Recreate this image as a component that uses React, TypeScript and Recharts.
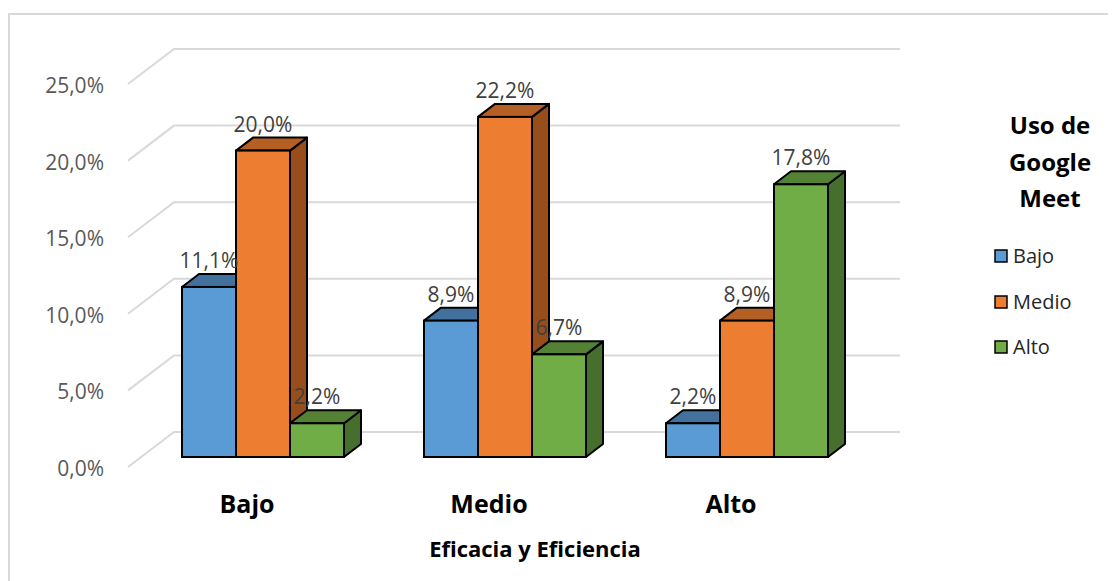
import { BarChart, Bar, XAxis, YAxis, CartesianGrid, Legend, LabelList } from 'recharts';

const categories = ['Bajo', 'Medio', 'Alto'];
const serieBajo = [11.1, 8.9, 2.2];
const serieMedio = [20.0, 22.2, 8.9];
const serieAlto = [2.2, 6.7, 17.8];
const yTicks = [0, 5, 10, 15, 20, 25];

const series = [
  { key: 'bajo', name: 'Bajo', front: '#5B9BD5', top: '#41719C', side: '#2F5A82' },
  { key: 'medio', name: 'Medio', front: '#ED7D31', top: '#B45F24', side: '#974D1C' },
  { key: 'alto', name: 'Alto', front: '#70AD47', top: '#548235', side: '#466E2D' },
];

const data = categories.map((c, i) => ({
  name: c,
  bajo: serieBajo[i],
  medio: serieMedio[i],
  alto: serieAlto[i],
}));

const DX = 17;
const DY = 13;
const FONT = '"Open Sans", sans-serif';

const fmt = (v: number) => v.toFixed(1).replace('.', ',') + '%';

function makeShape(front: string, top: string, side: string) {
  return (props: any) => {
    const { x, y, width, height } = props;
    const x2 = x + width;
    const yb = y + height;
    return (
      <g>
        <path
          d={`M${x2},${y} L${x2 + DX},${y - DY} L${x2 + DX},${yb - DY} L${x2},${yb} Z`}
          fill={side} stroke="#000" strokeWidth={2} strokeLinejoin="round"
        />
        <path
          d={`M${x},${y} L${x + DX},${y - DY} L${x2 + DX},${y - DY} L${x2},${y} Z`}
          fill={top} stroke="#000" strokeWidth={2} strokeLinejoin="round"
        />
        <rect x={x} y={y} width={width} height={height} fill={front} stroke="#000" strokeWidth={2} />
      </g>
    );
  };
}

// back wall lines with the little diagonal going to the front
const gridLine = (p: any) => {
  const y = p.y1;
  return (
    <path
      key={p.key}
      d={`M120,${y + 10} L166,${y - 25} L892,${y - 25}`}
      fill="none" stroke="#d9d9d9" strokeWidth={2}
    />
  );
};

const dataLabel = (p: any) => (
  <text x={p.x + p.width / 2} y={p.y - 19} textAnchor="middle" fontSize={21} fill="#404040" fontFamily={FONT}>
    {fmt(p.value)}
  </text>
);

function LegendBox() {
  const tops = [144, 190, 235];
  return (
    <svg width={150} height={270} style={{ fontFamily: FONT }}>
      <text x={80} y={28} textAnchor="middle" fontSize={24} fontWeight="bold" fill="#000">Uso de</text>
      <text x={80} y={65} textAnchor="middle" fontSize={24} fontWeight="bold" fill="#000">Google</text>
      <text x={80} y={101} textAnchor="middle" fontSize={24} fontWeight="bold" fill="#000">Meet</text>
      {series.map((s, i) => (
        <g key={s.key}>
          <rect x={25} y={tops[i]} width={12} height={12} fill={s.front} stroke="#000" strokeWidth={1.5} />
          <text x={43} y={tops[i] + 13} fontSize={20} fill="#262626">{s.name}</text>
        </g>
      ))}
    </svg>
  );
}

export default function App() {
  return (
    <div style={{ position: 'relative', marginTop: 5, width: 1108, height: 568, fontFamily: FONT }}>
      <div
        style={{
          position: 'absolute', left: 0, top: 0, width: 1200, height: 700,
          borderTop: '2px solid #d9d9d9', borderLeft: '2px solid #d9d9d9', boxSizing: 'border-box',
        }}
      />
      <BarChart
        width={1108}
        height={568}
        data={data}
        margin={{ top: 61, right: 248, bottom: 84, left: 34 }}
        barSize={54}
        barGap={0}
      >
        <CartesianGrid vertical={false} horizontal={gridLine} />
        <XAxis
          dataKey="name"
          height={40}
          axisLine={false}
          tickLine={false}
          tick={(p: any) => (
            <text x={p.x - 16} y={500} textAnchor="middle" fontSize={25} fontWeight="bold" fill="#000" fontFamily={FONT}>
              {p.payload.value}
            </text>
          )}
          label={() => (
            <text x={527} y={544} textAnchor="middle" fontSize={22} fontWeight="bold" fill="#000" fontFamily={FONT}>
              Eficacia y Eficiencia
            </text>
          )}
        />
        <YAxis
          width={100}
          domain={[0, 25]}
          ticks={yTicks}
          axisLine={false}
          tickLine={false}
          tick={(p: any) => (
            <text x={96} y={p.y + 19} textAnchor="end" fontSize={21} fill="#595959" fontFamily={FONT}>
              {fmt(p.payload.value)}
            </text>
          )}
        />
        <Legend
          layout="vertical"
          align="center"
          verticalAlign="middle"
          wrapperStyle={{ left: 962, top: 93, width: 150, height: 270 }}
          content={() => <LegendBox />}
        />
        {series.map((s) => (
          <Bar key={s.key} dataKey={s.key} name={s.name} fill={s.front} shape={makeShape(s.front, s.top, s.side)} isAnimationActive={false}>
            <LabelList dataKey={s.key} content={dataLabel} />
          </Bar>
        ))}
      </BarChart>
    </div>
  );
}
